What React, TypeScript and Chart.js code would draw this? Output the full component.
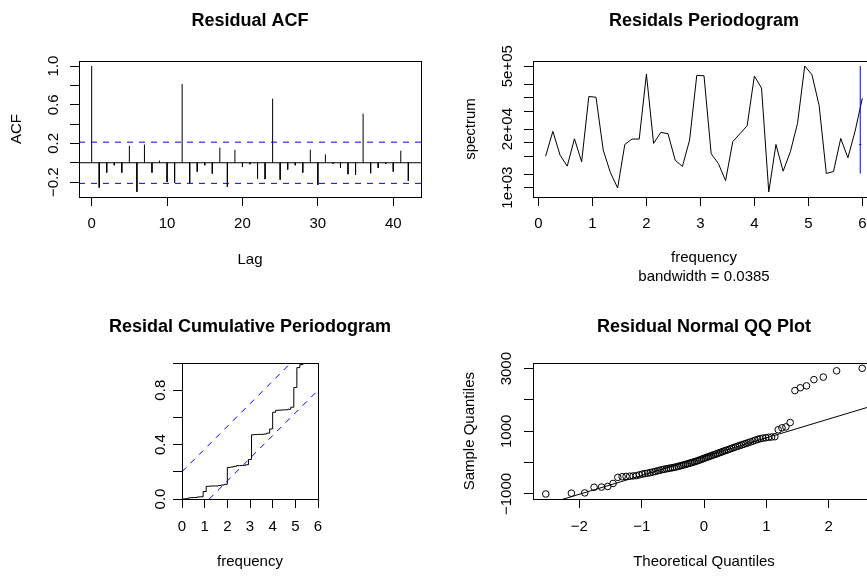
import React, { useEffect, useRef } from 'react';
import { Chart, registerables } from 'chart.js';

Chart.register(...registerables);

const FONT_FAMILY = '"Liberation Sans", Arial, Helvetica, sans-serif';
const MINUS = '\u2212';
const BLUE = '#0000ff';
const DASH = [6, 6];

// ---------- Residual ACF ----------
const ACF_LAGS = [0, 1, 2, 3, 4, 5, 6, 7, 8, 9, 10, 11, 12, 13, 14, 15, 16, 17, 18, 19, 20, 21, 22, 23, 24, 25, 26, 27, 28, 29, 30, 31, 32, 33, 34, 35, 36, 37, 38, 39, 40, 41, 42];
const ACF_VALUES = [1.0, -0.257, -0.102, -0.026, -0.102, 0.175, -0.3, 0.188, -0.102, 0.023,
  -0.199, -0.207, 0.815, -0.212, -0.092, -0.026, -0.112, 0.156, -0.25, 0.134,
  -0.042, -0.015, -0.163, -0.169, 0.662, -0.175, -0.07, -0.026, -0.102, 0.135,
  -0.228, 0.087, -0.011, -0.051, -0.118, -0.125, 0.508, -0.108, -0.053, -0.011,
  -0.092, 0.125, -0.188];
const ACF_CLIM = 0.213;
const ACF_X_RANGE = [-1.68, 43.68];
const ACF_Y_RANGE = [-0.354, 1.052];
const ACF_X_TICKS = [0, 10, 20, 30, 40];
const ACF_Y_TICKS = [-0.2, 0, 0.2, 0.4, 0.6, 0.8, 1.0];
const ACF_Y_LABELS = [-0.2, 0.2, 0.6, 1.0];

// ---------- Residuals periodogram ----------
const PGRAM_FREQ = [0.133, 0.267, 0.4, 0.533, 0.667, 0.8, 0.933, 1.067, 1.2, 1.333, 1.467, 1.6, 1.733, 1.867, 2.0,
  2.133, 2.267, 2.4, 2.533, 2.667, 2.8, 2.933, 3.067, 3.2, 3.333, 3.467, 3.6, 3.733, 3.867, 4.0,
  4.133, 4.267, 4.4, 4.533, 4.667, 4.8, 4.933, 5.067, 5.2, 5.333, 5.467, 5.6, 5.733, 5.867, 6.0];
const PGRAM_SPEC = [5000, 17800, 5270, 3000, 12200, 3740, 106000, 102000, 6820, 2160, 980, 9120, 12000, 12000, 334000,
  9610, 16900, 15800, 4080, 2950, 11400, 312000, 307000, 5650, 3430, 1430, 10500, 15800, 23900, 302000,
  163000, 800, 9120, 2320, 6270, 26900, 505000, 323000, 66700, 2060, 2280, 12400, 4610, 18100, 97000];
const PGRAM_BANDWIDTH = 0.0385;
const PGRAM_CI_X = 5.9615;
const PGRAM_CI_LOWER = 2056;
const PGRAM_CI_CENTER = 9120;
const PGRAM_CI_UPPER = 505000;
const PGRAM_X_RANGE = [-0.101, 6.235];
const PGRAM_Y_RANGE = [618, 653000];
const PGRAM_X_TICKS = [0, 1, 2, 3, 4, 5, 6];
const PGRAM_Y_TICKS = [1e3, 2e3, 5e3, 1e4, 2e4, 5e4, 1e5, 2e5, 5e5];
const PGRAM_Y_LABELS = [1e3, 2e4, 5e5];

// ---------- Cumulative periodogram ----------
const CPG_FREQ = [0, 0.133, 0.267, 0.4, 0.533, 0.667, 0.8, 0.933, 1.067, 1.2, 1.333, 1.467, 1.6, 1.733, 1.867, 2.0,
  2.133, 2.267, 2.4, 2.533, 2.667, 2.8, 2.933, 3.067, 3.2, 3.333, 3.467, 3.6, 3.733, 3.867, 4.0,
  4.133, 4.267, 4.4, 4.533, 4.667, 4.8, 4.933, 5.067, 5.2, 5.333, 5.467, 5.6, 5.733, 5.867];
const CPG_CUM = [0, 0.002, 0.008, 0.010, 0.011, 0.015, 0.016, 0.055, 0.093, 0.095, 0.096, 0.096, 0.099, 0.103, 0.108, 0.232,
  0.235, 0.240, 0.245, 0.246, 0.247, 0.252, 0.290, 0.472, 0.474, 0.475, 0.475, 0.478, 0.484, 0.515, 0.638,
  0.652, 0.653, 0.655, 0.656, 0.660, 0.675, 0.820, 0.966, 0.988, 0.997, 0.998, 0.999, 0.9995, 1.0];
const CPG_UPPER_X = [0, 4.796];
const CPG_UPPER_Y = [0.2006, 1];
const CPG_LOWER_X = [1.204, 6];
const CPG_LOWER_Y = [0, 0.7994];
const CPG_X_RANGE = [0, 6];
const CPG_Y_RANGE = [0, 1];
const CPG_X_TICKS = [0, 1, 2, 3, 4, 5, 6];
const CPG_Y_TICKS = [0, 0.2, 0.4, 0.6, 0.8, 1.0];
const CPG_Y_LABELS = [0, 0.4, 0.8];

// ---------- Normal QQ ----------
const QQ_THEORETICAL = [-2.539, -2.128, -1.914, -1.764, -1.645, -1.545, -1.459, -1.383, -1.314, -1.251,
  -1.192, -1.137, -1.085, -1.036, -0.990, -0.946, -0.903, -0.862, -0.822, -0.784,
  -0.746, -0.710, -0.674, -0.640, -0.606, -0.573, -0.541, -0.508, -0.477, -0.446,
  -0.415, -0.385, -0.355, -0.326, -0.297, -0.268, -0.240, -0.210, -0.183, -0.154,
  -0.126, -0.098, -0.070, -0.042, -0.014,
  0.014, 0.042, 0.070, 0.098, 0.126, 0.154, 0.183, 0.210, 0.240, 0.268,
  0.297, 0.326, 0.355, 0.385, 0.415, 0.446, 0.477, 0.508, 0.541, 0.573,
  0.606, 0.640, 0.674, 0.710, 0.746, 0.784, 0.822, 0.862, 0.903, 0.946,
  0.990, 1.036, 1.085, 1.137, 1.192, 1.251, 1.314, 1.383, 1.459, 1.545,
  1.645, 1.764, 1.914, 2.128, 2.539];
const QQ_SAMPLE = [-1000, -975, -965, -785, -780, -760, -665, -470, -450, -440,
  -432, -425, -415, -390, -365, -350, -335, -318, -300, -282,
  -262, -244, -226, -212, -198, -186, -174, -162, -150, -135,
  -120, -104, -88, -72, -56, -40, -24, -6, 10, 28,
  46, 65, 85, 105, 126, 148, 168, 188, 208, 228,
  248, 268, 288, 310, 330, 352, 372, 394, 414, 436,
  458, 480, 502, 524, 546, 568, 590, 612, 636, 660,
  688, 715, 742, 765, 782, 796, 808, 818, 828, 1050,
  1110, 1140, 1280, 2300, 2390, 2450, 2650, 2730, 2930, 3010];
const QQ_LINE_X = [-2.744, 2.744];
const QQ_LINE_Y = [-1455, 1837];
const QQ_X_RANGE = [-2.744, 2.744];
const QQ_Y_RANGE = [-1160, 3170];
const QQ_X_TICKS = [-2, -1, 0, 1, 2];
const QQ_Y_TICKS = [-1000, 0, 1000, 2000, 3000];
const QQ_Y_LABELS = [-1000, 1000, 3000];

// ---------- helpers ----------
type Pt = { x: number; y: number | null };
const pts = (xs: number[], ys: (number | null)[]): Pt[] => xs.map((x, i) => ({ x, y: ys[i] }));

const fmtFixed1 = (v: number) => (v < -1e-9 ? MINUS : '') + Math.abs(v).toFixed(1);
const fmtInt = (v: number) => (v < -1e-9 ? MINUS : '') + String(Math.round(Math.abs(v)));
const fmtSci = (v: number) => {
  const e = Math.floor(Math.log10(v) + 1e-9);
  const m = Math.round(v / Math.pow(10, e));
  return `${m}e+${String(e).padStart(2, '0')}`;
};
const hasLabel = (list: number[], v: number) =>
  list.some((l) => Math.abs(l - v) <= 1e-9 * Math.max(1, Math.abs(v)));

interface AxisSpec {
  type?: 'linear' | 'logarithmic';
  range: number[];
  ticks: number[];
  labels?: number[];
  fmt: (v: number) => string;
  title?: string | string[];
  titlePad: number;
  labelPad: number;
  size: number;
}

const tickFont = { family: FONT_FAMILY, size: 15 };
const titleFont = { family: FONT_FAMILY, size: 15, lineHeight: 19 / 15 };

function xAxis(s: AxisSpec): any {
  return {
    type: s.type ?? 'linear',
    position: 'bottom',
    min: s.range[0],
    max: s.range[1],
    bounds: 'data',
    afterBuildTicks: (sc: any) => { sc.ticks = s.ticks.map((v) => ({ value: v })); },
    afterFit: (sc: any) => { sc.height = s.size; },
    grid: { display: true, drawOnChartArea: false, drawTicks: true, tickLength: 9, color: '#000', lineWidth: 1 },
    border: { display: false },
    ticks: {
      autoSkip: false, minRotation: 0, maxRotation: 0, padding: s.labelPad, color: '#000', font: tickFont,
      callback: (v: any) => { const n = Number(v); return !s.labels || hasLabel(s.labels, n) ? s.fmt(n) : ''; },
    },
    title: s.title
      ? { display: true, text: s.title, color: '#000', font: titleFont, padding: { top: 0, bottom: s.titlePad } }
      : { display: false },
  };
}

function yAxis(s: AxisSpec): any {
  return {
    type: s.type ?? 'linear',
    position: 'left',
    min: s.range[0],
    max: s.range[1],
    bounds: 'data',
    afterBuildTicks: (sc: any) => { sc.ticks = s.ticks.map((v) => ({ value: v })); },
    afterFit: (sc: any) => { sc.width = s.size; },
    grid: { display: true, drawOnChartArea: false, drawTicks: true, tickLength: 9, color: '#000', lineWidth: 1 },
    border: { display: false },
    ticks: {
      autoSkip: false, minRotation: 90, maxRotation: 90, crossAlign: 'center', padding: s.labelPad,
      color: '#000', font: tickFont,
      callback: (v: any) => { const n = Number(v); return !s.labels || hasLabel(s.labels, n) ? s.fmt(n) : ''; },
    },
    title: s.title
      ? { display: true, text: s.title, color: '#000', font: titleFont, padding: { top: s.titlePad, bottom: 0 } }
      : { display: false },
  };
}

const boxPlugin = {
  id: 'rBox',
  afterDraw(chart: any) {
    const { ctx, chartArea: a } = chart;
    const l = Math.round(a.left) + 0.5;
    const t = Math.round(a.top) + 0.5;
    const r = Math.round(a.right) + 0.5;
    const b = Math.round(a.bottom) + 0.5;
    ctx.save();
    ctx.strokeStyle = '#000';
    ctx.lineWidth = 1;
    ctx.setLineDash([]);
    ctx.strokeRect(l, t, r - l, b - t);
    ctx.restore();
  },
};

function baseOptions(title: string, titlePad: { top: number; bottom: number }, fullSize: boolean, padRight: number, scales: any): any {
  return {
    responsive: false,
    maintainAspectRatio: false,
    animation: false,
    devicePixelRatio: 1,
    events: [],
    layout: { padding: { left: 0, right: padRight, top: 0, bottom: 0 } },
    plugins: {
      legend: { display: false },
      tooltip: { enabled: false },
      title: {
        display: true, text: title, color: '#000', fullSize,
        font: { family: FONT_FAMILY, size: 18, weight: 'bold' },
        padding: titlePad,
      },
    },
    elements: { point: { radius: 0 }, line: { tension: 0, borderWidth: 1 } },
    scales,
  };
}

const lineDs = (data: Pt[], color: string, dash: number[] = [], extra: any = {}) => ({
  data, borderColor: color, borderWidth: 1, borderDash: dash, pointRadius: 0, fill: false, spanGaps: false, ...extra,
});

// ---------- chart configs ----------
function acfConfig(): any {
  const sticks: Pt[] = [];
  ACF_LAGS.forEach((lag, i) => {
    sticks.push({ x: lag, y: 0 }, { x: lag, y: ACF_VALUES[i] }, { x: lag, y: null });
  });
  return {
    type: 'line',
    data: {
      datasets: [
        lineDs(pts(ACF_X_RANGE, [ACF_CLIM, ACF_CLIM]), BLUE, DASH),
        lineDs(pts(ACF_X_RANGE, [-ACF_CLIM, -ACF_CLIM]), BLUE, DASH),
        lineDs(pts(ACF_X_RANGE, [0, 0]), '#000'),
        lineDs(sticks, '#000'),
      ],
    },
    options: baseOptions('Residual ACF', { top: 10, bottom: 29.4 }, false, 33, {
      x: xAxis({ range: ACF_X_RANGE, ticks: ACF_X_TICKS, fmt: fmtInt, title: 'Lag', titlePad: 18.6, labelPad: 9, size: 91 }),
      y: yAxis({ range: ACF_Y_RANGE, ticks: ACF_Y_TICKS, labels: ACF_Y_LABELS, fmt: fmtFixed1, title: 'ACF', titlePad: 7.5, labelPad: 1, size: 79 }),
    }),
    plugins: [boxPlugin],
  };
}

function pgramConfig(): any {
  return {
    type: 'line',
    data: {
      datasets: [
        lineDs(pts([PGRAM_CI_X, PGRAM_CI_X], [PGRAM_CI_LOWER, PGRAM_CI_UPPER]), BLUE),
        lineDs(pts([PGRAM_CI_X - PGRAM_BANDWIDTH / 2, PGRAM_CI_X + PGRAM_BANDWIDTH / 2], [PGRAM_CI_CENTER, PGRAM_CI_CENTER]), BLUE),
        lineDs(pts(PGRAM_FREQ, PGRAM_SPEC), '#000'),
      ],
    },
    options: baseOptions('Residals Periodogram', { top: 10, bottom: 29.4 }, false, 33, {
      x: xAxis({ range: PGRAM_X_RANGE, ticks: PGRAM_X_TICKS, fmt: fmtInt, title: ['frequency', `bandwidth = ${PGRAM_BANDWIDTH}`], titlePad: 1.2, labelPad: 9, size: 91 }),
      y: yAxis({ type: 'logarithmic', range: PGRAM_Y_RANGE, ticks: PGRAM_Y_TICKS, labels: PGRAM_Y_LABELS, fmt: fmtSci, title: 'spectrum', titlePad: 7.5, labelPad: -5.3, size: 79 }),
    }),
    plugins: [boxPlugin],
  };
}

function cpgConfig(): any {
  return {
    type: 'line',
    data: {
      datasets: [
        lineDs(pts(CPG_UPPER_X, CPG_UPPER_Y), BLUE, DASH),
        lineDs(pts(CPG_LOWER_X, CPG_LOWER_Y), BLUE, DASH),
        lineDs(pts(CPG_FREQ, CPG_CUM), '#000', [], { stepped: 'before' }),
      ],
    },
    options: baseOptions('Residal Cumulative Periodogram', { top: 27.9, bottom: 25.5 }, true, 0, {
      x: xAxis({ range: CPG_X_RANGE, ticks: CPG_X_TICKS, fmt: fmtInt, title: 'frequency', titlePad: 4.9, labelPad: 10, size: 77 }),
      y: yAxis({ range: CPG_Y_RANGE, ticks: CPG_Y_TICKS, labels: CPG_Y_LABELS, fmt: fmtFixed1, titlePad: 0, labelPad: 1.7, size: 182 }),
      yRight: {
        type: 'linear', position: 'right', min: 0, max: 1, display: true,
        afterFit: (sc: any) => { sc.width = 182; },
        grid: { display: false }, border: { display: false }, ticks: { display: false }, title: { display: false },
      },
    }),
    plugins: [boxPlugin],
  };
}

function qqConfig(): any {
  return {
    type: 'line',
    data: {
      datasets: [
        {
          data: pts(QQ_THEORETICAL, QQ_SAMPLE), showLine: false,
          pointRadius: 3.3, pointStyle: 'circle', pointBorderColor: '#000', pointBorderWidth: 1,
          pointBackgroundColor: 'rgba(0,0,0,0)', borderColor: '#000',
        },
        lineDs(pts(QQ_LINE_X, QQ_LINE_Y), '#000'),
      ],
    },
    options: baseOptions('Residual Normal QQ Plot', { top: 27.9, bottom: 25.8 }, false, 33, {
      x: xAxis({ range: QQ_X_RANGE, ticks: QQ_X_TICKS, fmt: fmtInt, title: 'Theoretical Quantiles', titlePad: 4.3, labelPad: 10, size: 77 }),
      y: yAxis({ range: QQ_Y_RANGE, ticks: QQ_Y_TICKS, labels: QQ_Y_LABELS, fmt: fmtInt, title: 'Sample Quantiles', titlePad: 6.8, labelPad: -4.4, size: 79 }),
    }),
    plugins: [boxPlugin],
  };
}

function Panel(props: { left: number; top: number; width: number; height: number; build: () => any }) {
  const ref = useRef<HTMLCanvasElement>(null);
  useEffect(() => {
    const chart = new Chart(ref.current as HTMLCanvasElement, props.build());
    return () => chart.destroy();
  }, []);
  return (
    <canvas
      ref={ref}
      width={props.width}
      height={props.height}
      style={{ position: 'absolute', left: props.left, top: props.top, width: props.width, height: props.height }}
    />
  );
}

export default function App() {
  return (
    <div style={{ position: 'fixed', left: 0, top: 0, width: 867, height: 576, overflow: 'hidden', background: '#fff' }}>
      <Panel left={0} top={0} width={454} height={288} build={acfConfig} />
      <Panel left={454} top={0} width={454} height={288} build={pgramConfig} />
      <Panel left={454} top={288} width={454} height={288} build={qqConfig} />
      <Panel left={0} top={288} width={500} height={288} build={cpgConfig} />
    </div>
  );
}
